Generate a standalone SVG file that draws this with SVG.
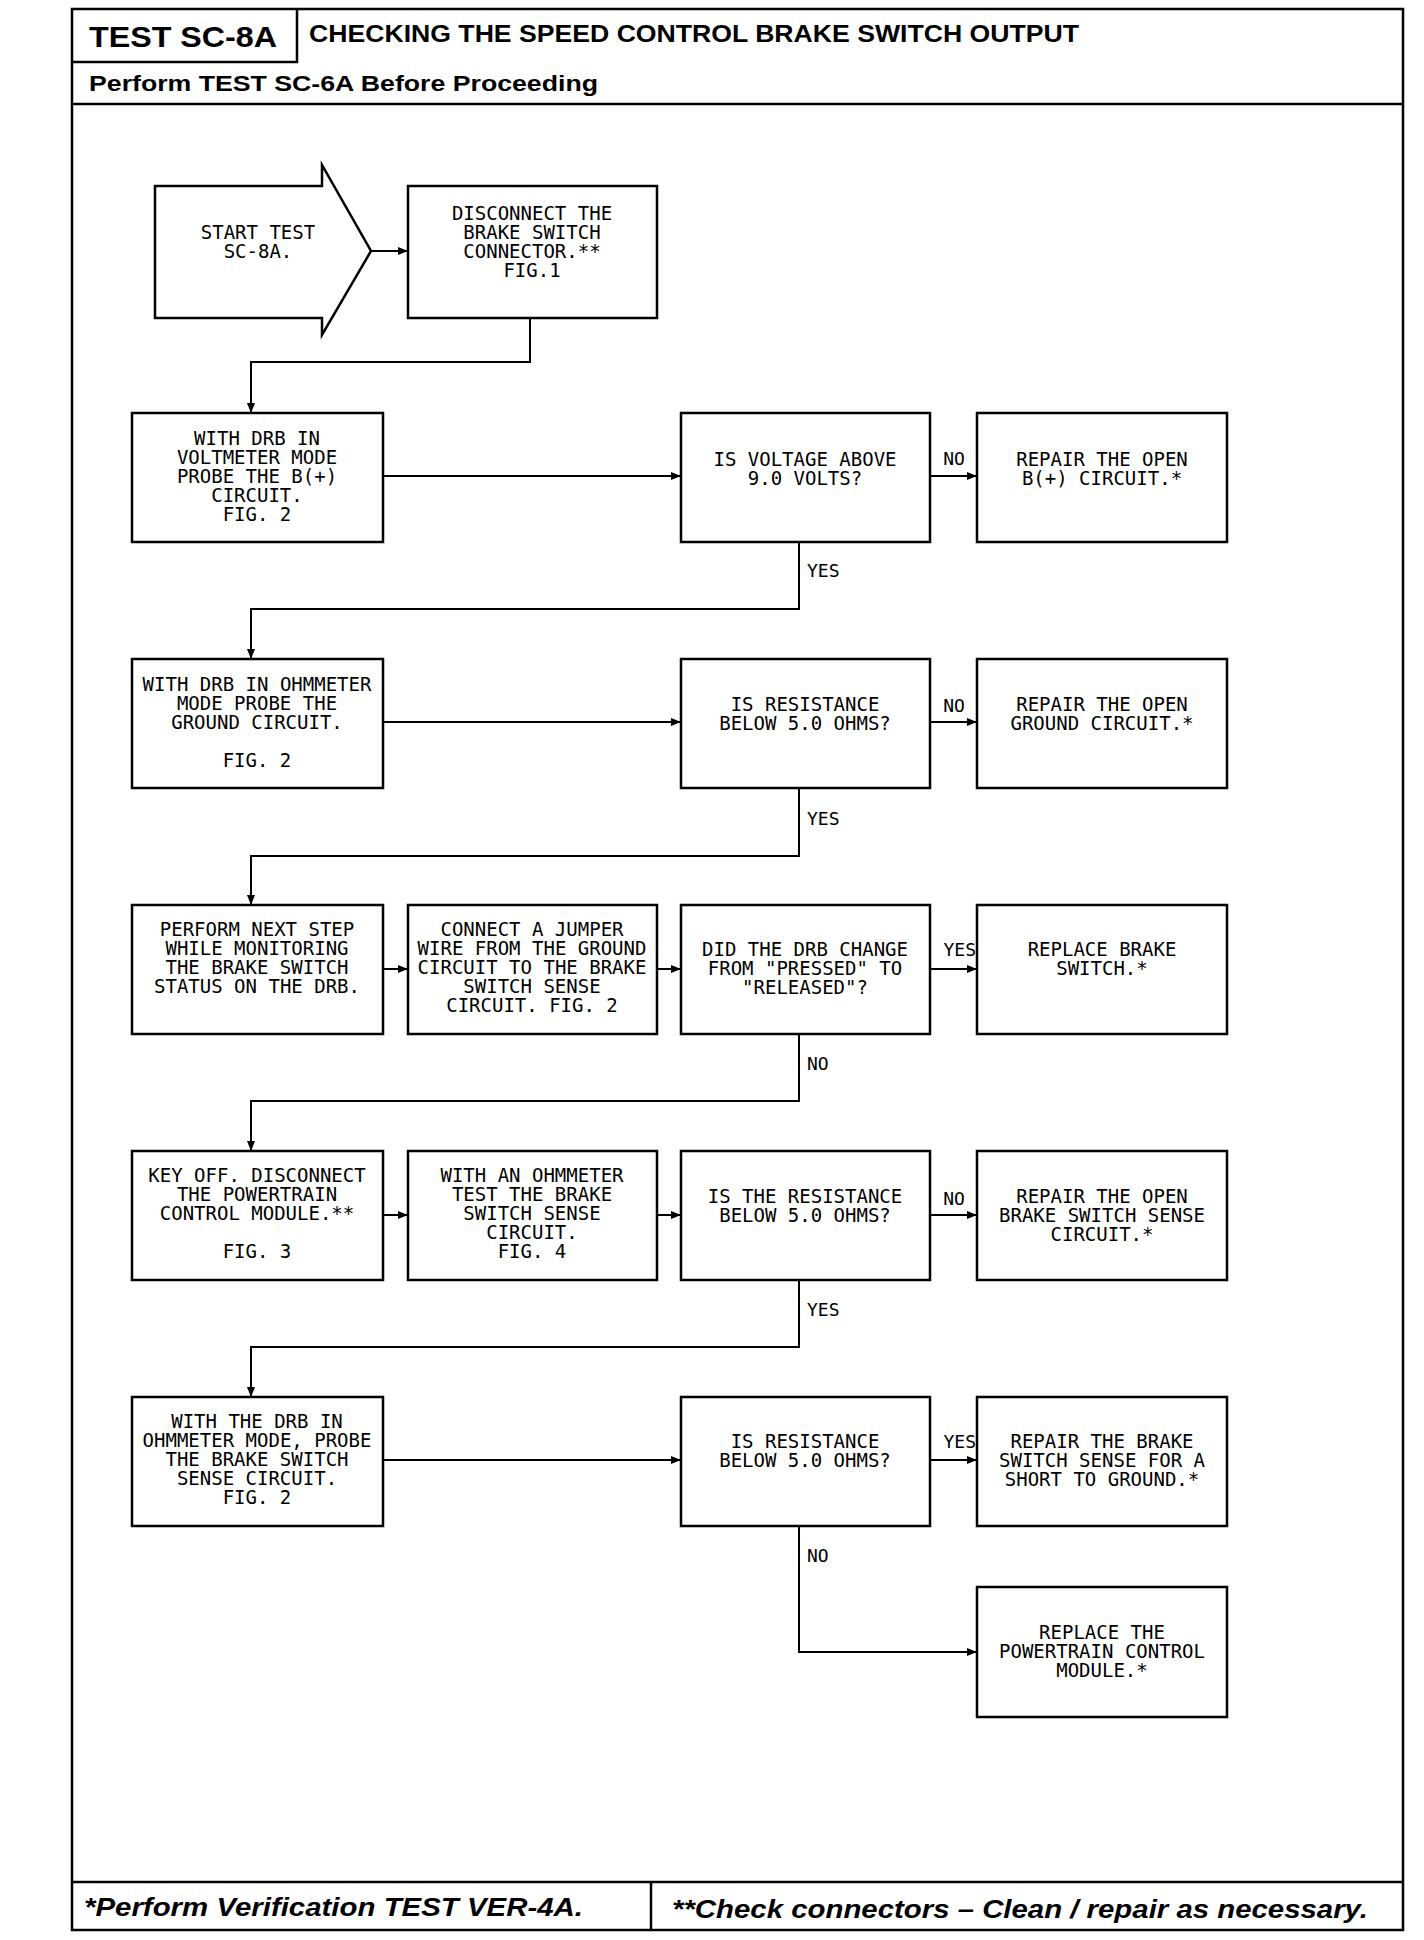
<svg xmlns="http://www.w3.org/2000/svg" width="1424" height="1940" viewBox="0 0 1424 1940">
<style>
.frame{fill:none;stroke:#000;stroke-width:2.5}
.box{fill:#fff;stroke:#000;stroke-width:2.5}
.con{fill:none;stroke:#000;stroke-width:2}
.t{font-family:"DejaVu Sans Mono","Liberation Mono",monospace;font-size:19px;fill:#000;text-anchor:middle}
.lb{font-family:"DejaVu Sans Mono","Liberation Mono",monospace;font-size:18px;fill:#000}
.hd{font-family:"Liberation Sans",Arial,sans-serif;font-weight:bold;fill:#000}
.ft{font-family:"Liberation Sans",Arial,sans-serif;font-weight:bold;font-style:italic;fill:#000}
</style>
<defs>
<marker id="ah" markerUnits="userSpaceOnUse" markerWidth="10" markerHeight="8" refX="10" refY="4" orient="auto">
<path d="M0,0 L10,4 L0,8 z" fill="#000"/>
</marker>
</defs>
<rect width="1424" height="1940" fill="#fff"/>
<g id="frame">
<rect class="frame" x="72" y="9" width="1331" height="1921"/>
<path class="frame" d="M297,9 V62 H72"/>
<line class="frame" x1="72" y1="104" x2="1403" y2="104"/>
<line class="frame" x1="72" y1="1882" x2="1403" y2="1882"/>
<line class="frame" x1="651" y1="1882" x2="651" y2="1930"/>
<text class="hd" x="89" y="47" font-size="30" textLength="188" lengthAdjust="spacingAndGlyphs">TEST SC-8A</text>
<text class="hd" x="309" y="42" font-size="24" textLength="770" lengthAdjust="spacingAndGlyphs">CHECKING THE SPEED CONTROL BRAKE SWITCH OUTPUT</text>
<text class="hd" x="89" y="91" font-size="22" textLength="509" lengthAdjust="spacingAndGlyphs">Perform TEST SC-6A Before Proceeding</text>
<text class="ft" x="84" y="1916" font-size="26" textLength="499" lengthAdjust="spacingAndGlyphs">*Perform Verification TEST VER-4A.</text>
<text class="ft" x="672" y="1918" font-size="26" textLength="696" lengthAdjust="spacingAndGlyphs">**Check connectors – Clean / repair as necessary.</text>
</g>
<g id="connectors">
<line class="con" x1="371" y1="251" x2="408" y2="251" marker-end="url(#ah)"/>
<polyline class="con" points="530,318 530,362 251,362 251,413" marker-end="url(#ah)"/>
<line class="con" x1="383" y1="476" x2="681" y2="476" marker-end="url(#ah)"/>
<line class="con" x1="930" y1="476" x2="977" y2="476" marker-end="url(#ah)"/>
<polyline class="con" points="799,542 799,609 251,609 251,659" marker-end="url(#ah)"/>
<line class="con" x1="383" y1="722" x2="681" y2="722" marker-end="url(#ah)"/>
<line class="con" x1="930" y1="722" x2="977" y2="722" marker-end="url(#ah)"/>
<polyline class="con" points="799,788 799,856 251,856 251,905" marker-end="url(#ah)"/>
<line class="con" x1="383" y1="969" x2="408" y2="969" marker-end="url(#ah)"/>
<line class="con" x1="657" y1="969" x2="681" y2="969" marker-end="url(#ah)"/>
<line class="con" x1="930" y1="969" x2="977" y2="969" marker-end="url(#ah)"/>
<polyline class="con" points="799,1034 799,1101 251,1101 251,1151" marker-end="url(#ah)"/>
<line class="con" x1="383" y1="1215" x2="408" y2="1215" marker-end="url(#ah)"/>
<line class="con" x1="657" y1="1215" x2="681" y2="1215" marker-end="url(#ah)"/>
<line class="con" x1="930" y1="1215" x2="977" y2="1215" marker-end="url(#ah)"/>
<polyline class="con" points="799,1280 799,1347 251,1347 251,1397" marker-end="url(#ah)"/>
<line class="con" x1="383" y1="1460" x2="681" y2="1460" marker-end="url(#ah)"/>
<line class="con" x1="930" y1="1460" x2="977" y2="1460" marker-end="url(#ah)"/>
<polyline class="con" points="799,1526 799,1652 977,1652" marker-end="url(#ah)"/>
<text class="lb" x="954" y="465" text-anchor="middle">NO</text>
<text class="lb" x="807" y="577">YES</text>
<text class="lb" x="954" y="712" text-anchor="middle">NO</text>
<text class="lb" x="807" y="825">YES</text>
<text class="lb" x="976" y="956" text-anchor="end">YES</text>
<text class="lb" x="807" y="1070">NO</text>
<text class="lb" x="954" y="1205" text-anchor="middle">NO</text>
<text class="lb" x="807" y="1316">YES</text>
<text class="lb" x="976" y="1448" text-anchor="end">YES</text>
<text class="lb" x="807" y="1562">NO</text>
</g>
<g id="start">
<polygon class="box" points="155,186 322,186 322,165 371,251 322,335 322,318 155,318"/>
<text class="t" x="258" y="239">START TEST</text>
<text class="t" x="258" y="258">SC-8A.</text>
</g>
<g id="disconnect">
<rect class="box" x="408" y="186" width="249" height="132"/>
<text class="t" x="532" y="220">DISCONNECT THE</text>
<text class="t" x="532" y="239">BRAKE SWITCH</text>
<text class="t" x="532" y="258">CONNECTOR.**</text>
<text class="t" x="532" y="277">FIG.1</text>
</g>
<g id="voltmeter">
<rect class="box" x="132" y="413" width="251" height="129"/>
<text class="t" x="257" y="445">WITH DRB IN</text>
<text class="t" x="257" y="464">VOLTMETER MODE</text>
<text class="t" x="257" y="483">PROBE THE B(+)</text>
<text class="t" x="257" y="502">CIRCUIT.</text>
<text class="t" x="257" y="521">FIG. 2</text>
</g>
<g id="q-voltage">
<rect class="box" x="681" y="413" width="249" height="129"/>
<text class="t" x="805" y="466">IS VOLTAGE ABOVE</text>
<text class="t" x="805" y="485">9.0 VOLTS?</text>
</g>
<g id="repair-b">
<rect class="box" x="977" y="413" width="250" height="129"/>
<text class="t" x="1102" y="466">REPAIR THE OPEN</text>
<text class="t" x="1102" y="485">B(+) CIRCUIT.*</text>
</g>
<g id="ohmmeter-ground">
<rect class="box" x="132" y="659" width="251" height="129"/>
<text class="t" x="257" y="691">WITH DRB IN OHMMETER</text>
<text class="t" x="257" y="710">MODE PROBE THE</text>
<text class="t" x="257" y="729">GROUND CIRCUIT.</text>
<text class="t" x="257" y="767">FIG. 2</text>
</g>
<g id="q-ground">
<rect class="box" x="681" y="659" width="249" height="129"/>
<text class="t" x="805" y="711">IS RESISTANCE</text>
<text class="t" x="805" y="730">BELOW 5.0 OHMS?</text>
</g>
<g id="repair-ground">
<rect class="box" x="977" y="659" width="250" height="129"/>
<text class="t" x="1102" y="711">REPAIR THE OPEN</text>
<text class="t" x="1102" y="730">GROUND CIRCUIT.*</text>
</g>
<g id="monitor">
<rect class="box" x="132" y="905" width="251" height="129"/>
<text class="t" x="257" y="936">PERFORM NEXT STEP</text>
<text class="t" x="257" y="955">WHILE MONITORING</text>
<text class="t" x="257" y="974">THE BRAKE SWITCH</text>
<text class="t" x="257" y="993">STATUS ON THE DRB.</text>
</g>
<g id="jumper">
<rect class="box" x="408" y="905" width="249" height="129"/>
<text class="t" x="532" y="936">CONNECT A JUMPER</text>
<text class="t" x="532" y="955">WIRE FROM THE GROUND</text>
<text class="t" x="532" y="974">CIRCUIT TO THE BRAKE</text>
<text class="t" x="532" y="993">SWITCH SENSE</text>
<text class="t" x="532" y="1012">CIRCUIT. FIG. 2</text>
</g>
<g id="q-drb">
<rect class="box" x="681" y="905" width="249" height="129"/>
<text class="t" x="805" y="956">DID THE DRB CHANGE</text>
<text class="t" x="805" y="975">FROM "PRESSED" TO</text>
<text class="t" x="805" y="994">"RELEASED"?</text>
</g>
<g id="replace-switch">
<rect class="box" x="977" y="905" width="250" height="129"/>
<text class="t" x="1102" y="956">REPLACE BRAKE</text>
<text class="t" x="1102" y="975">SWITCH.*</text>
</g>
<g id="key-off">
<rect class="box" x="132" y="1151" width="251" height="129"/>
<text class="t" x="257" y="1182">KEY OFF. DISCONNECT</text>
<text class="t" x="257" y="1201">THE POWERTRAIN</text>
<text class="t" x="257" y="1220">CONTROL MODULE.**</text>
<text class="t" x="257" y="1258">FIG. 3</text>
</g>
<g id="ohmmeter-sense">
<rect class="box" x="408" y="1151" width="249" height="129"/>
<text class="t" x="532" y="1182">WITH AN OHMMETER</text>
<text class="t" x="532" y="1201">TEST THE BRAKE</text>
<text class="t" x="532" y="1220">SWITCH SENSE</text>
<text class="t" x="532" y="1239">CIRCUIT.</text>
<text class="t" x="532" y="1258">FIG. 4</text>
</g>
<g id="q-sense">
<rect class="box" x="681" y="1151" width="249" height="129"/>
<text class="t" x="805" y="1203">IS THE RESISTANCE</text>
<text class="t" x="805" y="1222">BELOW 5.0 OHMS?</text>
</g>
<g id="repair-sense">
<rect class="box" x="977" y="1151" width="250" height="129"/>
<text class="t" x="1102" y="1203">REPAIR THE OPEN</text>
<text class="t" x="1102" y="1222">BRAKE SWITCH SENSE</text>
<text class="t" x="1102" y="1241">CIRCUIT.*</text>
</g>
<g id="probe-sense">
<rect class="box" x="132" y="1397" width="251" height="129"/>
<text class="t" x="257" y="1428">WITH THE DRB IN</text>
<text class="t" x="257" y="1447">OHMMETER MODE, PROBE</text>
<text class="t" x="257" y="1466">THE BRAKE SWITCH</text>
<text class="t" x="257" y="1485">SENSE CIRCUIT.</text>
<text class="t" x="257" y="1504">FIG. 2</text>
</g>
<g id="q-short">
<rect class="box" x="681" y="1397" width="249" height="129"/>
<text class="t" x="805" y="1448">IS RESISTANCE</text>
<text class="t" x="805" y="1467">BELOW 5.0 OHMS?</text>
</g>
<g id="repair-short">
<rect class="box" x="977" y="1397" width="250" height="129"/>
<text class="t" x="1102" y="1448">REPAIR THE BRAKE</text>
<text class="t" x="1102" y="1467">SWITCH SENSE FOR A</text>
<text class="t" x="1102" y="1486">SHORT TO GROUND.*</text>
</g>
<g id="replace-pcm">
<rect class="box" x="977" y="1587" width="250" height="130"/>
<text class="t" x="1102" y="1639">REPLACE THE</text>
<text class="t" x="1102" y="1658">POWERTRAIN CONTROL</text>
<text class="t" x="1102" y="1677">MODULE.*</text>
</g>
</svg>
